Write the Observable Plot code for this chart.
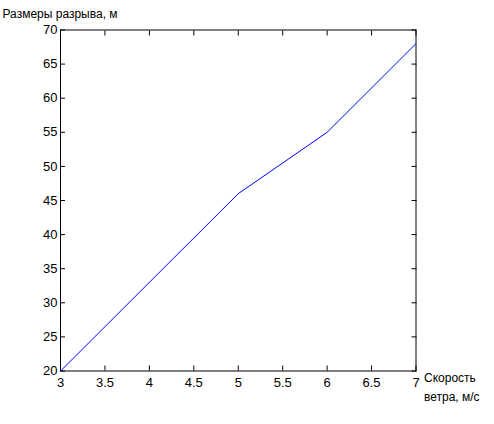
<!DOCTYPE html>
<html><head><meta charset="utf-8">
<script src="https://cdn.jsdelivr.net/npm/d3@7"></script>
<script src="https://cdn.jsdelivr.net/npm/@observablehq/plot@0.6"></script>
<style>body{margin:0;background:#fff}</style>
</head><body><div id="chart"></div>
<script>
const windSpeed = [3, 5, 6, 7];
const gapSize = [20, 46, 55, 68];
const xTicks = [3, 3.5, 4, 4.5, 5, 5.5, 6, 6.5, 7];
const yTicks = [20, 25, 30, 35, 40, 45, 50, 55, 60, 65, 70];
const yTitle = "Размеры разрыва, м";
const xTitle = "Скорость\nветра, м/с";

const data = windSpeed.map((x, i) => ({x, y: gapSize[i]}));
const labelFont = "'Liberation Sans', Arial, sans-serif";

const chart = Plot.plot({
  width: 494, height: 424,
  marginLeft: 60, marginRight: 78.5, marginTop: 29.5, marginBottom: 53.5,
  style: {fontFamily: "'Liberation Sans Narrow', 'Liberation Sans', Arial, sans-serif", fontSize: "13px", color: "#000", background: "#fff"},
  x: {domain: [3, 7]},
  y: {domain: [20, 70]},
  marks: [
    Plot.frame({stroke: "#000", strokeWidth: 1}),
    Plot.axisX({ticks: xTicks, tickSize: -5, tickPadding: 12, label: null, tickFormat: d => String(d)}),
    Plot.axisX({ticks: xTicks, anchor: "top", tickSize: -5, tickPadding: 0, label: null, tickFormat: () => ""}),
    Plot.axisY({ticks: yTicks, tickSize: -5, tickPadding: 8, label: null, tickFormat: d => String(d)}),
    Plot.axisY({ticks: yTicks, anchor: "right", tickSize: -5, tickPadding: 0, label: null, tickFormat: () => ""}),
    Plot.line(data, {x: "x", y: "y", stroke: "#0000ff", strokeWidth: 1}),
    Plot.text([yTitle], {frameAnchor: "top-left", dx: -58, dy: -12, textAnchor: "start", lineAnchor: "bottom", fontFamily: labelFont, fontSize: 12}),
    Plot.text([xTitle], {frameAnchor: "bottom-right", dx: 8, dy: -2, textAnchor: "start", lineAnchor: "top", lineHeight: 1.55, fontFamily: labelFont, fontSize: 12})
  ]
});
document.getElementById("chart").appendChild(chart);
</script>
</body></html>
